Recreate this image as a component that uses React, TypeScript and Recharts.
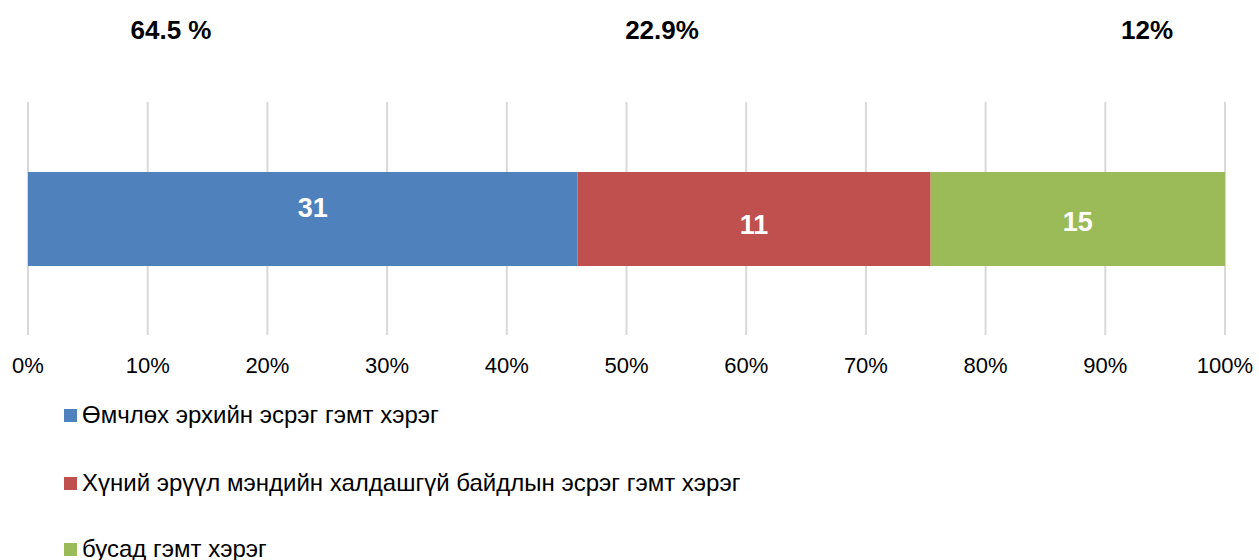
import { BarChart, Bar, XAxis, YAxis, CartesianGrid, LabelList } from "recharts";

// Crime categories (stacked as one 100% bar)
const seriesNames = [
  "Өмчлөх эрхийн эсрэг гэмт хэрэг",
  "Хүний эрүүл мэндийн халдашгүй байдлын эсрэг гэмт хэрэг",
  "бусад гэмт хэрэг",
];
const seriesValues = [28, 18, 15];
const barLabels = ["31", "11", "15"];
const shareLabels = ["64.5 %", "22.9%", "12%"];
const xTicks = [0, 0.1, 0.2, 0.3, 0.4, 0.5, 0.6, 0.7, 0.8, 0.9, 1];

const colors = ["#4F81BD", "#C0504D", "#9BBB59"];
const FONT = "'Liberation Sans', Arial, sans-serif";

// layout-only tweaks
const labelOffsets = [
  { dx: 10, dy: -11 },
  { dx: 0, dy: 6 },
  { dx: 0, dy: 3 },
];
const shareLabelX = [171, 662, 1147];
const legendRowY = [415, 483, 549];

const row: Record<string, string | number> = { name: "" };
seriesValues.forEach((v, i) => {
  row[`s${i}`] = v;
});
const chartData = [row];

const makeLabel = (i: number) => (props: any) => {
  const { x, y, width, height } = props;
  const off = labelOffsets[i];
  return (
    <text
      x={x + width / 2 + off.dx}
      y={y + height / 2 + off.dy}
      fill="#ffffff"
      fontSize={27}
      fontWeight="bold"
      fontFamily={FONT}
      textAnchor="middle"
      dominantBaseline="central"
    >
      {barLabels[i]}
    </text>
  );
};

const XTick = (props: any) => {
  const { x, y, payload } = props;
  return (
    <text
      x={x}
      y={y}
      fill="#000"
      fontSize={22}
      fontFamily={FONT}
      textAnchor="middle"
      dominantBaseline="central"
    >
      {`${Math.round(payload.value * 100)}%`}
    </text>
  );
};

export default function App() {
  return (
    <div style={{ position: "absolute", left: 0, top: 0, width: 1259, height: 560, background: "#fff", fontFamily: FONT }}>
      {/* share labels above the bar */}
      {shareLabels.map((t, i) => (
        <div
          key={t}
          style={{
            position: "absolute",
            left: shareLabelX[i] - 60,
            width: 120,
            top: 14,
            textAlign: "center",
            fontSize: 26,
            fontWeight: "bold",
            lineHeight: "32px",
            color: "#000",
          }}
        >
          {t}
        </div>
      ))}

      <div style={{ position: "absolute", left: 0, top: 0 }}>
        <BarChart
          width={1259}
          height={385}
          data={chartData}
          layout="vertical"
          stackOffset="expand"
          margin={{ top: 102, right: 34, left: 28, bottom: 0 }}
        >
          <CartesianGrid horizontal={false} stroke="#d9d9d9" strokeWidth={2} />
          <XAxis
            type="number"
            domain={[0, 1]}
            ticks={xTicks}
            axisLine={false}
            tickLine={false}
            height={50}
            tick={<XTick />}
            tickMargin={24}
          />
          <YAxis type="category" dataKey="name" hide width={0} />
          {seriesValues.map((_, i) => (
            <Bar
              key={i}
              dataKey={`s${i}`}
              stackId="a"
              fill={colors[i]}
              barSize={94}
              isAnimationActive={false}
            >
              <LabelList dataKey={`s${i}`} content={makeLabel(i)} />
            </Bar>
          ))}
        </BarChart>
      </div>

      {/* legend */}
      {seriesNames.map((name, i) => (
        <div
          key={name}
          style={{
            position: "absolute",
            left: 64,
            top: legendRowY[i] - 15,
            height: 30,
            display: "flex",
            alignItems: "center",
            fontSize: 24,
            color: "#000",
            whiteSpace: "nowrap",
          }}
        >
          <span style={{ display: "inline-block", width: 13, height: 13, background: colors[i], marginRight: 5 }} />
          {name}
        </div>
      ))}
    </div>
  );
}
